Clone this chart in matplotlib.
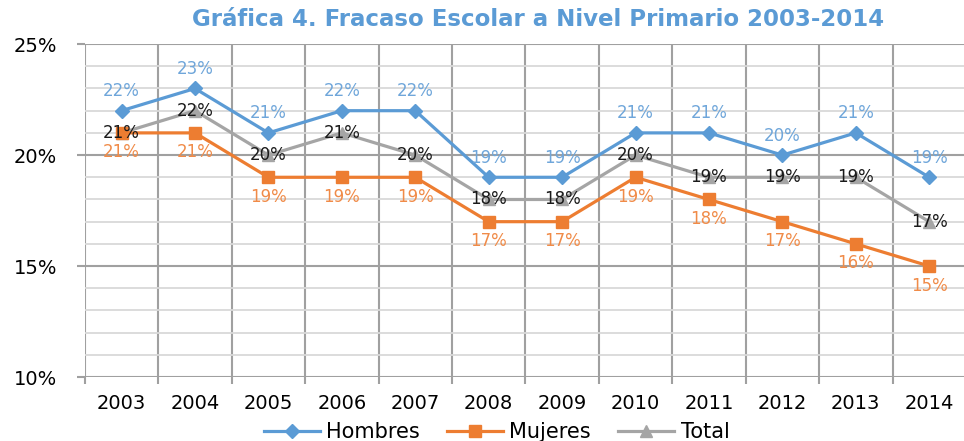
import matplotlib.pyplot as plt
from matplotlib.ticker import FixedLocator, FuncFormatter

years = ['2003', '2004', '2005', '2006', '2007', '2008', '2009', '2010', '2011', '2012', '2013', '2014']
hombres = [22, 23, 21, 22, 22, 19, 19, 21, 21, 20, 21, 19]
mujeres = [21, 21, 19, 19, 19, 17, 17, 19, 18, 17, 16, 15]
total = [21, 22, 20, 21, 20, 18, 18, 20, 19, 19, 19, 17]

blue = '#5B9BD5'
orange = '#ED7D31'
gray = '#A5A5A5'

plt.rcParams['font.family'] = 'DejaVu Sans'

fig = plt.figure(figsize=(9.64, 4.41), dpi=100)
ax = fig.add_axes([0.088, 0.145, 0.914, 0.755])

x = list(range(len(years)))
ax.plot(x, hombres, color=blue, lw=2.3, marker='D', ms=7, label='Hombres', zorder=4)
ax.plot(x, mujeres, color=orange, lw=2.3, marker='s', ms=9, label='Mujeres', zorder=4)
ax.plot(x, total, color=gray, lw=2.3, marker='^', ms=8, label='Total', zorder=3)

for i in x:
    ax.annotate(f'{hombres[i]}%', (i, hombres[i]), xytext=(0, 14), textcoords='offset points',
                ha='center', va='center', color='#6FA6DA', fontsize=12, zorder=6)
    ax.annotate(f'{mujeres[i]}%', (i, mujeres[i]), xytext=(0, -14), textcoords='offset points',
                ha='center', va='center', color='#F08B48', fontsize=12, zorder=6)
    ax.annotate(f'{total[i]}%', (i, total[i]), xytext=(0, 0), textcoords='offset points',
                ha='center', va='center', color='#1a1a1a', fontsize=12, zorder=6)

ax.set_xlim(-0.5, 11.5)
ax.set_ylim(10, 25)

ax.xaxis.set_major_locator(FixedLocator(x))
ax.set_xticklabels(years)
ax.xaxis.set_minor_locator(FixedLocator([i - 0.5 for i in range(13)]))
ax.tick_params(axis='x', which='major', length=0, pad=12, labelsize=14)
ax.tick_params(axis='x', which='minor', length=5, width=1.5, color='#A0A0A0', direction='out')
ax.grid(axis='x', which='minor', color='#A0A0A0', lw=1.5)

ax.yaxis.set_major_locator(FixedLocator([10, 15, 20, 25]))
ax.yaxis.set_minor_locator(FixedLocator([y for y in range(10, 26) if y % 5 != 0]))
ax.yaxis.set_major_formatter(FuncFormatter(lambda v, p: f'{v:.0f}%'))
ax.tick_params(axis='y', which='major', length=6, width=1.5, color='#A0A0A0', pad=14, labelsize=14)
ax.tick_params(axis='y', which='minor', length=0)
ax.grid(axis='y', which='major', color='#A0A0A0', lw=1.5)
ax.grid(axis='y', which='minor', color='#D9D9D9', lw=1.3)

for s in ax.spines.values():
    s.set_visible(False)
ax.set_axisbelow(True)

fig.text(0.558, 0.955, 'Gráfica 4. Fracaso Escolar a Nivel Primario 2003-2014', ha='center', va='center',
         color=blue, fontsize=16.5, fontweight='bold')

fig.legend(loc='center', bbox_to_anchor=(0.515, 0.02), ncol=3, frameon=False, fontsize=15,
           handlelength=2.7, columnspacing=1.3, handletextpad=0.3)

fig.savefig('out.png', dpi=100)
